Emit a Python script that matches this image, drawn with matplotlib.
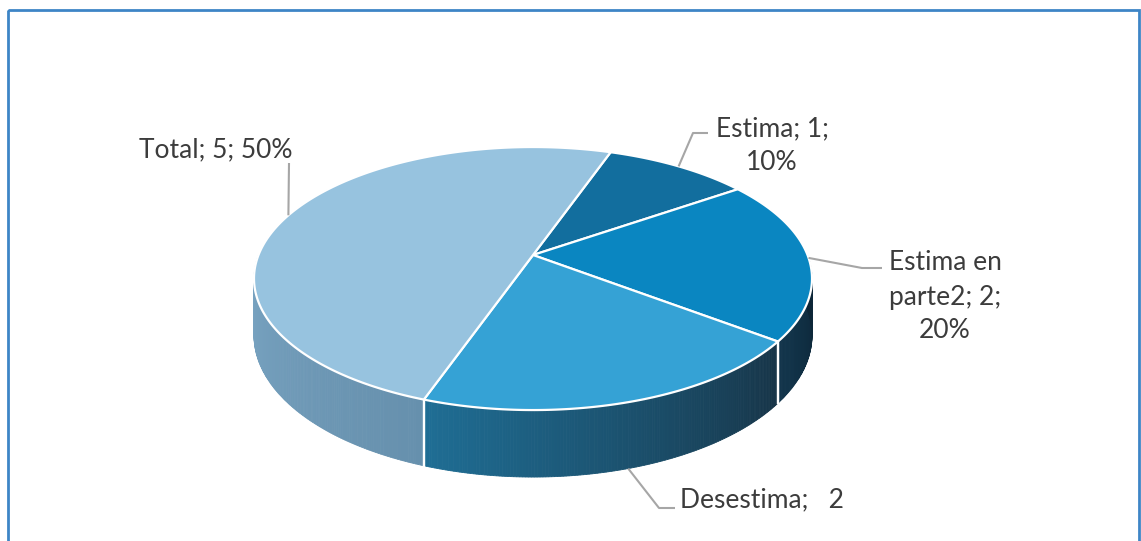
import numpy as np
import matplotlib.pyplot as plt
from matplotlib.colors import to_rgb
from matplotlib.patches import Polygon, Rectangle

# data
categories = ['Estima', 'Estima en parte2', 'Desestima', 'Total']
values = [1, 2, 2, 5]
label_texts = ['Estima; 1;\n10%', 'Estima en\nparte2; 2;\n20%', 'Desestima;   2', 'Total; 5; 50%']
top_colors = ['#126e9e', '#0a86c1', '#35a2d5', '#97c3df']
# side wall gradient (left -> right) for each slice
wall_colors = [('#0b3f5c', '#0b2a3d'), ('#12354c', '#0c2434'),
               ('#1f6e95', '#173447'), ('#7ba6c4', '#6690ad')]

# 3d pie geometry (pixel space)
CX, CY = 533, 255
RX, RY = 274.5, 127.3
PERSP = 0.179
DEPTH = 55
START = 70.7


def proj(a_deg, drop=0.0):
    a = np.radians(a_deg)
    u, v = np.cos(a), np.sin(a)
    d = 1 + PERSP * v
    return CX + RX * u / d, CY - RY * v / d + drop / d


fig = plt.figure(figsize=(11.41, 5.41), dpi=100)
ax = fig.add_axes([0, 0, 1, 1])
ax.set_xlim(0, 1141)
ax.set_ylim(541, 0)
ax.axis('off')

total = sum(values)
bounds = []
a0 = START
for v in values:
    a1 = a0 - v * 360.0 / total
    bounds.append((a0, a1))
    a0 = a1

# side walls (front half only), thin strips give the gradient
for (a0, a1), (c_left, c_right) in zip(bounds, wall_colors):
    cl, cr = np.array(to_rgb(c_left)), np.array(to_rgb(c_right))
    for shift in (0, 360):
        lo = max(a1 + shift, -180)
        hi = min(a0 + shift, 0)
        if hi <= lo:
            continue
        n = max(int((hi - lo) * 2), 2)
        ts = np.linspace(lo, hi, n + 1)
        for k, (t0, t1) in enumerate(zip(ts[:-1], ts[1:])):
            w = (k + 0.5) / n
            c = tuple(cl * (1 - w) + cr * w)
            pts = [proj(t0), proj(t1), proj(t1, DEPTH), proj(t0, DEPTH)]
            ax.add_patch(Polygon(pts, closed=True, facecolor=c, edgecolor=c, lw=0.6))

# white seams on the wall
for a0, a1 in bounds:
    for a in (a0, a1):
        if -180 < a < 0:
            p, q = proj(a), proj(a, DEPTH)
            ax.plot([p[0], q[0]], [p[1], q[1]], color='white', lw=1.6)

# top faces
for (a0, a1), col in zip(bounds, top_colors):
    ts = np.linspace(a0, a1, 200)
    pts = [(CX, CY)] + [proj(t) for t in ts]
    ax.add_patch(Polygon(pts, closed=True, facecolor=col, edgecolor='white',
                         lw=1.6, joinstyle='round'))

# labels with leader lines
label_pos = [(772, 146), (945, 297), (680, 500), (216, 150)]
label_ha = ['center', 'center', 'left', 'center']
elbows = [[(693, 133), (708, 133)],
          [(862, 268), (882, 268)],
          [(659, 508), (675, 508)],
          [(289, 163)]]
for i, (a0, a1) in enumerate(bounds):
    mid = (a0 + a1) / 2
    drop = DEPTH if np.sin(np.radians(mid)) < -0.5 else 0
    sx, sy = proj(mid, drop)
    xs = [sx] + [p[0] for p in elbows[i]]
    ys = [sy] + [p[1] for p in elbows[i]]
    ax.plot(xs, ys, color='#a6a6a6', lw=1.5, solid_capstyle='butt')
    ax.text(label_pos[i][0], label_pos[i][1], label_texts[i], ha=label_ha[i],
            va='center', fontsize=19, color='#3c3c3c', family='Lato',
            linespacing=1.45)

# chart frame
ax.add_patch(Rectangle((7.5, 9.5), 1131, 560, fill=False, edgecolor='#3d85c6', lw=2))

fig.savefig('out.png', dpi=100)
